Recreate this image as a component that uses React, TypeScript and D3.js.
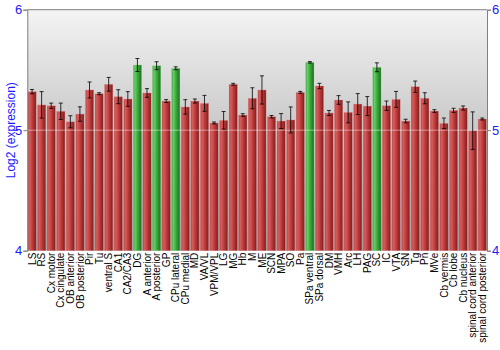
import React, { useRef, useEffect } from 'react';
import * as d3 from 'd3';

const regions = [
  'LS', 'RS', 'Cx motor', 'Cx cingulate', 'OB anterior', 'OB posterior', 'Pir', 'Tu',
  'ventral S', 'CA1', 'CA2/CA3', 'DG', 'A anterior', 'A posterior', 'GP', 'CPu lateral',
  'CPu medial', 'MD', 'VA/VL', 'VPM/VPL', 'LG', 'MG', 'Hb', 'M', 'ME', 'SCN', 'MPA', 'SO',
  'Pa', 'SPa ventral', 'SPa dorsal', 'DM', 'VMH', 'Arc', 'LH', 'PAG', 'SC', 'IC', 'VTA',
  'SN', 'Tg', 'Pn', 'MVe', 'Cb vermis', 'Cb lobe', 'Cb nucleus', 'spinal cord anterior',
  'spinal cord posterior',
];

const expression = [
  5.32, 5.21, 5.203, 5.157, 5.07, 5.134, 5.334, 5.303,
  5.381, 5.278, 5.259, 5.541, 5.309, 5.535, 5.242, 5.514,
  5.193, 5.242, 5.223, 5.06, 5.082, 5.381, 5.126, 5.265, 5.334, 5.112, 5.076, 5.085,
  5.314, 5.563, 5.367, 5.143, 5.251, 5.148, 5.217, 5.2, 5.522, 5.203, 5.256,
  5.076, 5.361, 5.265, 5.159, 5.057, 5.165, 5.184, 4.996,
  5.093,
];

const errors = [
  0.018, 0.11, 0.022, 0.068, 0.05, 0.06, 0.066, 0.008,
  0.057, 0.058, 0.061, 0.054, 0.036, 0.033, 0.012, 0.012,
  0.06, 0.017, 0.066, 0.008, 0.073, 0.008, 0.011, 0.087, 0.117, 0.01, 0.062, 0.108,
  0.008, 0.006, 0.022, 0.021, 0.036, 0.087, 0.087, 0.079, 0.037, 0.039, 0.066,
  0.015, 0.047, 0.046, 0.011, 0.044, 0.017, 0.017, 0.156,
  0.008,
];

const highlighted = ['DG', 'A posterior', 'CPu lateral', 'SPa ventral', 'SC'];

const yTicks = [4, 5, 6];

const App = () => {
  const svgRef = useRef<SVGSVGElement>(null);

  useEffect(() => {
    document.body.style.margin = '0';
    const width = 500;
    const height = 350;
    const margin = { top: 9.7, right: 13, bottom: 99.3, left: 27.3 };
    const innerWidth = width - margin.left - margin.right;
    const innerHeight = height - margin.top - margin.bottom;

    const svg = d3.select(svgRef.current);
    svg.selectAll('*').remove();
    svg.attr('width', width).attr('height', height)
      .style('font-family', 'Liberation Sans, Arial, sans-serif');

    const data = regions.map((name, i) => ({
      name,
      value: expression[i],
      err: errors[i],
      green: highlighted.includes(name),
    }));

    const x = d3.scaleBand()
      .domain(regions)
      .range([0, innerWidth])
      .paddingInner(0.13)
      .paddingOuter(0.06);

    const y = d3.scaleLinear().domain([4, 6]).range([innerHeight, 0]);

    const defs = svg.append('defs');
    const bg = defs.append('linearGradient')
      .attr('id', 'bg').attr('x1', 0).attr('y1', 0).attr('x2', 0).attr('y2', 1);
    bg.append('stop').attr('offset', '0%').attr('stop-color', '#f4f4f4');
    bg.append('stop').attr('offset', '100%').attr('stop-color', '#9c9c9c');

    const makeBarGradient = (id: string, stops: string[]) => {
      const grad = defs.append('linearGradient')
        .attr('id', id).attr('x1', 0).attr('y1', 0).attr('x2', 1).attr('y2', 0);
      [0, 0.22, 0.55, 1].forEach((o, i) => {
        grad.append('stop').attr('offset', `${o * 100}%`).attr('stop-color', stops[i]);
      });
    };
    makeBarGradient('red', ['#b84444', '#d65c5c', '#bc3a3a', '#801c1c']);
    makeBarGradient('green', ['#44a844', '#66cc66', '#3aa63a', '#1d6b1d']);

    const g = svg.append('g')
      .attr('transform', `translate(${margin.left}, ${margin.top})`);

    // plot background
    g.append('rect')
      .attr('width', innerWidth)
      .attr('height', innerHeight)
      .attr('fill', 'url(#bg)');

    // bars
    g.selectAll('.bar')
      .data(data)
      .join('rect')
      .attr('class', 'bar')
      .attr('x', d => x(d.name)!)
      .attr('y', d => y(d.value))
      .attr('width', x.bandwidth())
      .attr('height', d => innerHeight - y(d.value))
      .attr('fill', d => (d.green ? 'url(#green)' : 'url(#red)'))
      .attr('stroke', d => (d.green ? 'rgba(150,230,150,0.5)' : 'rgba(240,160,160,0.5)'))
      .attr('stroke-width', 0.6);

    // gridline at 5, drawn over bars
    g.append('line')
      .attr('x1', 0).attr('x2', innerWidth)
      .attr('y1', y(5)).attr('y2', y(5))
      .attr('stroke', 'rgba(255,255,255,0.45)')
      .attr('stroke-width', 1);

    // error bars
    const eb = g.selectAll('.err')
      .data(data)
      .join('g')
      .attr('class', 'err')
      .attr('stroke', 'rgba(0,0,0,0.8)')
      .attr('stroke-width', 1);
    eb.append('line')
      .attr('x1', d => x(d.name)! + x.bandwidth() / 2)
      .attr('x2', d => x(d.name)! + x.bandwidth() / 2)
      .attr('y1', d => y(d.value + d.err))
      .attr('y2', d => y(d.value - d.err));
    [1, -1].forEach(s => {
      eb.append('line')
        .attr('x1', d => x(d.name)! + x.bandwidth() / 2 - 2)
        .attr('x2', d => x(d.name)! + x.bandwidth() / 2 + 2)
        .attr('y1', d => y(d.value + s * d.err))
        .attr('y2', d => y(d.value + s * d.err));
    });

    // frame line on top
    g.append('line')
      .attr('x1', 0).attr('x2', innerWidth).attr('y1', 0).attr('y2', 0)
      .attr('stroke', '#808080');

    // axes
    const leftAxis = g.append('g').call(d3.axisLeft(y).tickValues(yTicks).tickSize(4).tickFormat(d3.format('d')));
    const rightAxis = g.append('g')
      .attr('transform', `translate(${innerWidth}, 0)`)
      .call(d3.axisRight(y).tickValues(yTicks).tickSize(4).tickFormat(d3.format('d')));
    [leftAxis, rightAxis].forEach(ax => {
      ax.select('.domain').attr('stroke', '#808080');
      ax.selectAll('.tick line').attr('stroke', '#808080');
      ax.selectAll('.tick text')
        .attr('fill', '#1a1aff')
        .style('font-size', '13px')
        .style('font-family', 'Liberation Sans, Arial, sans-serif');
    });
    leftAxis.selectAll('.tick text').attr('x', -5);
    rightAxis.selectAll('.tick text').attr('x', 5);

    // x labels
    g.selectAll('.xlabel')
      .data(data)
      .join('text')
      .attr('class', 'xlabel')
      .attr('transform', d => `translate(${x(d.name)! + x.bandwidth() / 2 + 3.6}, ${innerHeight + 2}) rotate(-90)`)
      .attr('text-anchor', 'end')
      .style('font-size', '10px')
      .attr('fill', '#000')
      .text(d => d.name);

    // y axis label
    svg.append('text')
      .attr('transform', `translate(15, ${margin.top + innerHeight / 2}) rotate(-90)`)
      .attr('text-anchor', 'middle')
      .style('font-size', '12px')
      .attr('fill', '#1a1aff')
      .text('Log2 (expression)');
  }, []);

  return (
    <div>
      <svg ref={svgRef}></svg>
    </div>
  );
};

export default App;
